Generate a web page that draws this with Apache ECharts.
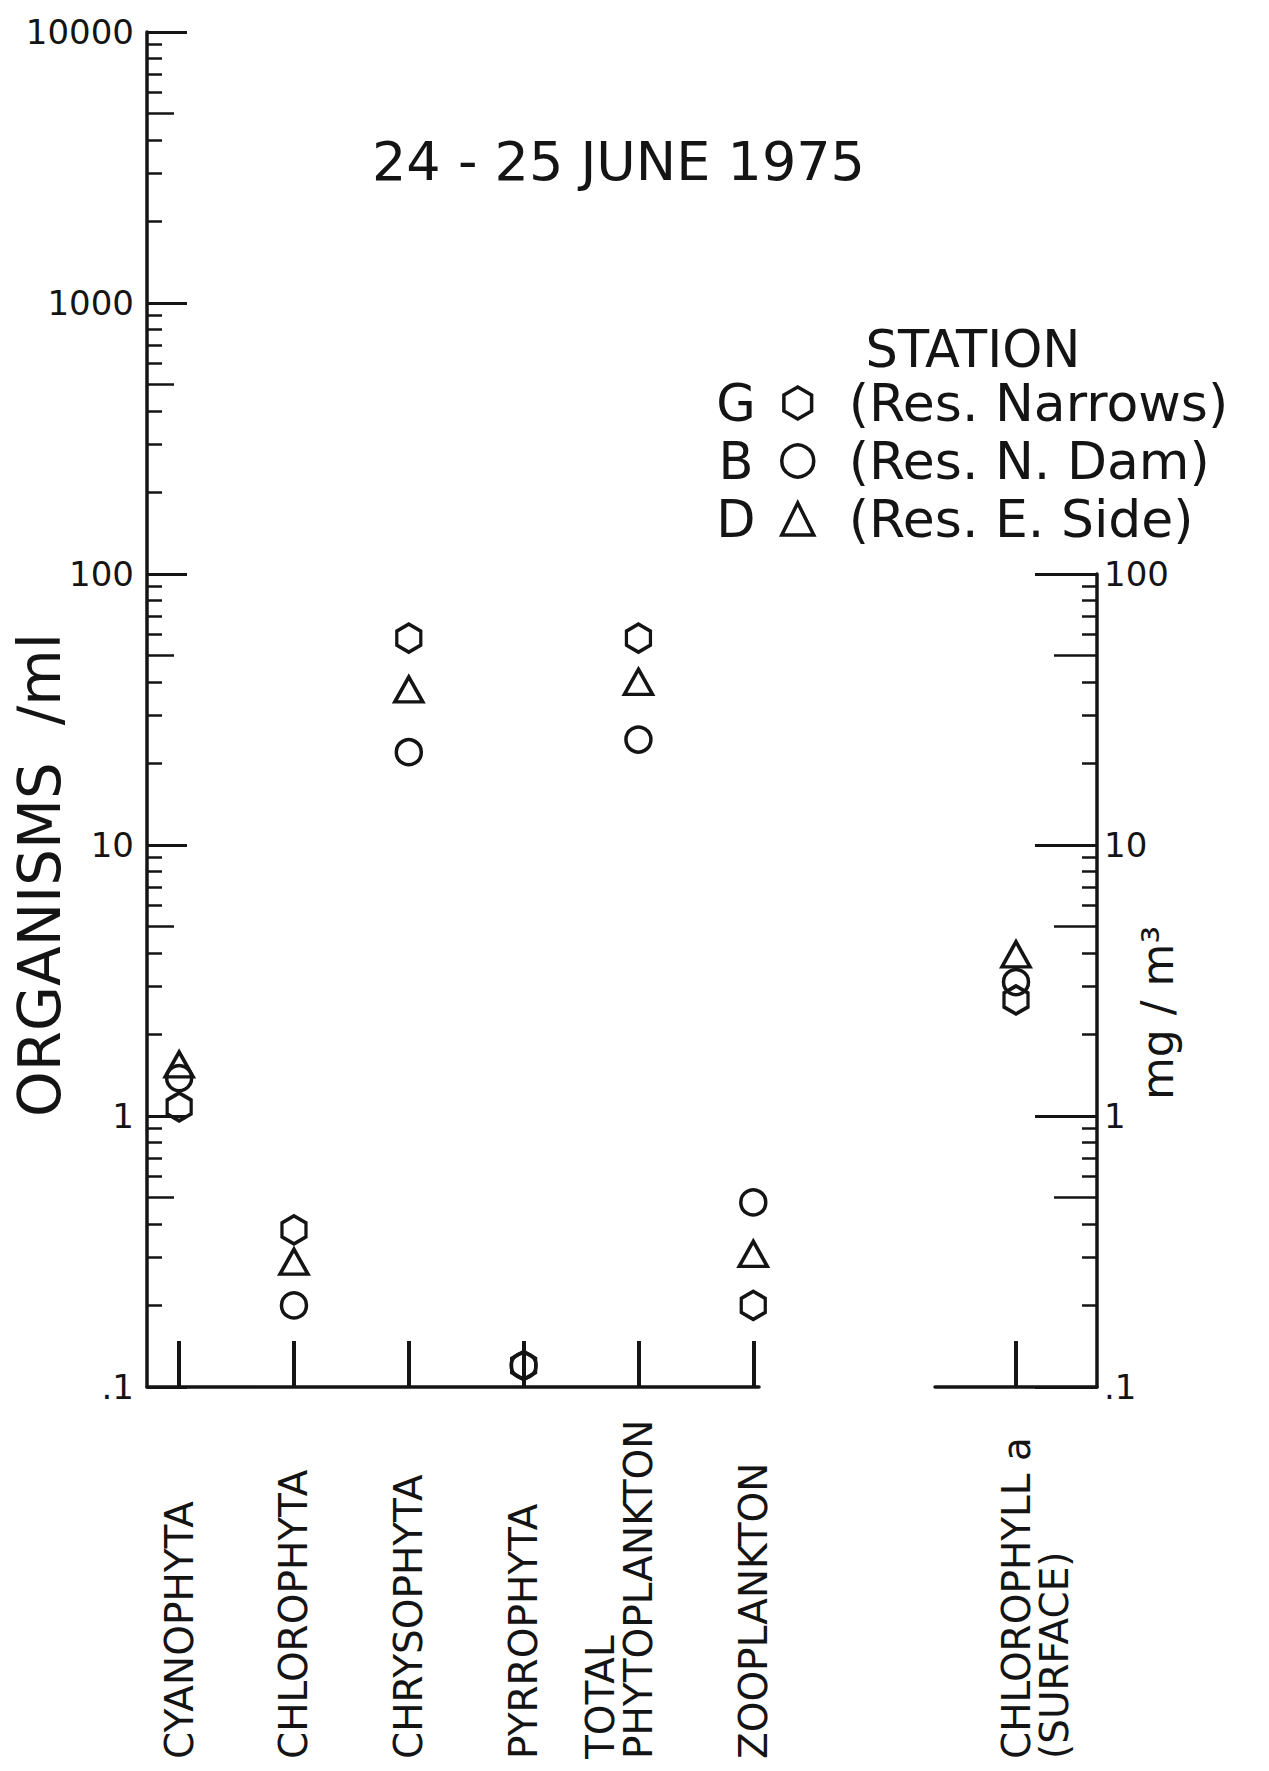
<!DOCTYPE html>
<html><head><meta charset="utf-8">
<script src="https://cdn.jsdelivr.net/npm/echarts@6/dist/echarts.min.js"></script>
<style>html,body{margin:0;padding:0;background:#fff}#c{width:1269px;height:1771px}</style>
</head><body><div id="c"></div>
<script>
// ---------- data ----------
const categories = ['CYANOPHYTA', 'CHLOROPHYTA', 'CHRYSOPHYTA', 'PYRROPHYTA', 'TOTAL\nPHYTOPLANKTON', 'ZOOPLANKTON'];
const chlCategory = ['CHLOROPHYLL a\n(SURFACE)'];
const stationG = [1.08, 0.38, 58, 0.12, 58, 0.2];      // hexagon
const stationB = [1.38, 0.2, 22, 0.12, 24.5, 0.48];    // circle
const stationD = [1.55, 0.29, 37.5, null, 40, 0.31];   // triangle
const chlG = [2.68];
const chlB = [3.12];
const chlD = [3.95];
const leftTicks = [0.1, 1, 10, 100, 1000, 10000];
const leftTickLabels = ['.1', '1', '10', '100', '1000', '10000'];
const rightTicks = [0.1, 1, 10, 100];
const rightTickLabels = ['.1', '1', '10', '100'];
const stationNames = ['G', 'B', 'D'];
const stationDesc = ['(Res. Narrows)', '(Res. N. Dam)', '(Res. E. Side)'];
const chartTitle = '24 - 25 JUNE 1975';
const legendTitle = 'STATION';
const yTitleLeft = 'ORGANISMS  /ml';
const yTitleRight = 'mg / m³';

// ---------- helpers ----------
const FONT = 'DejaVu Sans';
const INK = '#141414';
function decadeTicks(majors, mults) {
  const out = [];
  for (let i = 0; i < majors.length - 1; i++) mults.forEach(m => out.push(+(majors[i] * m).toPrecision(6)));
  return out;
}
const leftFives = decadeTicks(leftTicks, [5]);
const leftMinors = decadeTicks(leftTicks, [2, 3, 4, 6, 7, 8, 9]);
const rightFives = decadeTicks(rightTicks, [5]);
const rightMinors = decadeTicks(rightTicks, [2, 3, 4, 6, 7, 8, 9]);
function labelFor(ticks, labels) {
  return v => { const i = ticks.findIndex(t => Math.abs(t - v) / t < 1e-6); return i < 0 ? '' : labels[i]; };
}
function logAxis(grid, min, max, pos, ticks, len, width, withLine, labels) {
  return {
    type: 'log', logBase: 10, gridIndex: grid, min: min, max: max, position: pos,
    axisLine: { show: withLine, onZero: false, lineStyle: { color: INK, width: 3.5 } },
    axisTick: { show: true, inside: true, length: len, customValues: ticks, lineStyle: { color: INK, width: width } },
    axisLabel: labels ? { show: true, customValues: ticks, formatter: labelFor(ticks, labels), fontFamily: FONT, fontSize: 34, color: INK, margin: pos === 'left' ? 13 : 7 } : { show: false },
    splitLine: { show: false }, minorTick: { show: false }
  };
}
const hexPath = 'path://M0,-1 L0.866,-0.5 L0.866,0.5 L0,1 L-0.866,0.5 L-0.866,-0.5 Z';
const symbols = { G: hexPath, B: 'circle', D: 'triangle' };
const sizes = { G: [24, 28], B: 25, D: [28, 25] };
const hollow = { color: 'rgba(0,0,0,0)', borderColor: INK, borderWidth: 3.5, opacity: 1 };
function pts(arr) { return arr.map((v, i) => [i + 1, v]).filter(p => p[1] != null); }
const mainData = { G: stationG, B: stationB, D: stationD };
const chlData = { G: chlG, B: chlB, D: chlD };

const series = [];
stationNames.forEach(n => {
  series.push({ name: n, type: 'scatter', xAxisIndex: 0, yAxisIndex: 0, data: pts(mainData[n]), symbol: symbols[n], symbolSize: sizes[n], itemStyle: hollow, z: 5 });
  series.push({ name: n, type: 'scatter', xAxisIndex: 1, yAxisIndex: 3, data: pts(chlData[n]), symbol: symbols[n], symbolSize: sizes[n], itemStyle: hollow, z: 5 });
});

// two-line labels: pad with a blank line so that the reference's placement relative to the tick is kept
function fmtLabel(text, padAfter) {
  if (text.indexOf('\n') < 0) return text;
  return padAfter ? text + '\n ' : ' \n' + text;
}
const catLabel = (labels, off, padAfter) => ({
  show: true, customValues: labels.map((_, i) => i + off), formatter: v => fmtLabel(labels[Math.round(v) - off] || '', padAfter),
  rotate: 90, align: 'left', verticalAlign: 'middle', margin: 372, fontFamily: FONT, fontSize: 39, color: INK, lineHeight: 38
});

const chart = echarts.init(document.getElementById('c'), null, { renderer: 'svg' });
chart.setOption({
  backgroundColor: '#fff',
  animation: false,
  title: { text: chartTitle, left: 372, top: 134, padding: 0, textStyle: { fontFamily: FONT, fontSize: 54, fontWeight: 'normal', color: INK } },
  grid: [
    { left: 147, top: 32, width: 612, height: 1355, containLabel: false },
    { left: 935, top: 574, width: 162, height: 813, containLabel: false }
  ],
  xAxis: [
    { type: 'value', gridIndex: 0, min: 0.72, max: 6.05, splitLine: { show: false },
      axisLine: { show: true, onZero: false, lineStyle: { color: INK, width: 3.5 } },
      axisTick: { show: true, inside: true, length: 46, customValues: categories.map((_, i) => i + 1), lineStyle: { color: INK, width: 4 } },
      axisLabel: catLabel(categories, 1, true) },
    { type: 'value', gridIndex: 1, min: 0, max: 2, splitLine: { show: false },
      axisLine: { show: true, onZero: false, lineStyle: { color: INK, width: 3.5 } },
      axisTick: { show: true, inside: true, length: 46, customValues: [1], lineStyle: { color: INK, width: 4 } },
      axisLabel: catLabel(chlCategory, 1, false) }
  ],
  yAxis: [
    logAxis(0, 0.1, 10000, 'left', leftTicks, 40, 3, true, leftTickLabels),
    logAxis(0, 0.1, 10000, 'left', leftFives, 27, 2.5, false, null),
    logAxis(0, 0.1, 10000, 'left', leftMinors, 15, 2.5, false, null),
    logAxis(1, 0.1, 100, 'right', rightTicks, 62, 3, true, rightTickLabels),
    logAxis(1, 0.1, 100, 'right', rightFives, 43, 2.5, false, null),
    logAxis(1, 0.1, 100, 'right', rightMinors, 15, 2.5, false, null)
  ],
  legend: {
    data: stationNames, orient: 'vertical', left: 780, top: 377, itemWidth: 32, itemHeight: 32, itemGap: 6, padding: 0,
    itemStyle: { color: 'rgba(0,0,0,0)', borderColor: INK, borderWidth: 3.5 },
    formatter: n => stationDesc[stationNames.indexOf(n)],
    textStyle: { fontFamily: FONT, fontSize: 52, color: INK, lineHeight: 52, padding: [0, 0, 0, 30] },
    selectedMode: false
  },
  graphic: [
    { type: 'text', x: 973, y: 349, style: { text: legendTitle, font: '51px "DejaVu Sans"', fill: INK, align: 'center', verticalAlign: 'middle' } },
    ...stationNames.map((n, i) => ({ type: 'text', x: 736, y: 403 + i * 58, style: { text: n, font: '51px "DejaVu Sans"', fill: INK, align: 'center', verticalAlign: 'middle' } })),
    { type: 'text', x: 40, y: 875, rotation: Math.PI / 2, style: { text: yTitleLeft, font: '58px "DejaVu Sans"', fill: INK, align: 'center', verticalAlign: 'middle' } },
    { type: 'text', x: 1157, y: 1013, rotation: Math.PI / 2, style: { text: yTitleRight, font: '44px "DejaVu Sans"', fill: INK, align: 'center', verticalAlign: 'middle' } }
  ],
  series: series
});
</script></body></html>
